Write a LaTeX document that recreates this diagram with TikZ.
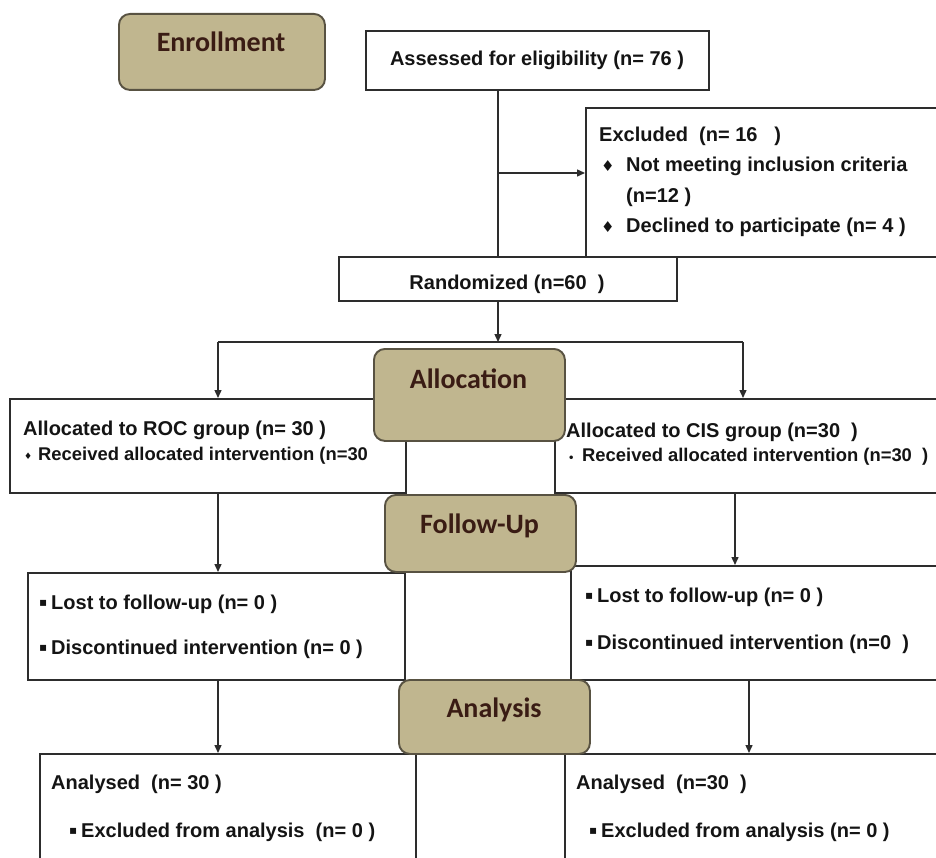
\documentclass[tikz,border=0pt]{standalone}
\usepackage{fontspec}
\setmainfont{Liberation Sans}
\newfontfamily\hdrfont{Carlito}
\newfontfamily\symfont{DejaVu Sans}
\usetikzlibrary{arrows.meta}
\definecolor{tanfill}{RGB}{192,182,143}
\definecolor{tanborder}{RGB}{88,82,66}
\definecolor{hdrtext}{RGB}{58,28,20}
\definecolor{linec}{RGB}{45,45,45}
\definecolor{txtc}{RGB}{20,20,20}
\newcommand{\bsq}{\makebox[12pt][l]{\raisebox{2.5pt}{\symfont\fontsize{12}{12}\selectfont ▪}}}
\newcommand{\bdia}{\makebox[25pt][l]{\symfont\fontsize{15}{15}\selectfont ♦}}
\newcommand{\bsmalldia}{\makebox[14pt][l]{\raisebox{1pt}{\symfont\fontsize{9}{9}\selectfont ♦}}}
\newcommand{\bdot}{\makebox[14pt][l]{\symfont\fontsize{10}{10}\selectfont •}}
\begin{document}
\begin{tikzpicture}[x=1pt,y=-1pt,
  plainbox/.style={draw=linec, line width=1.6pt, fill=white, inner sep=0pt, anchor=north west},
  hdrbox/.style={draw=tanborder, line width=1.9pt, fill=tanfill, rounded corners=11pt, inner sep=0pt, anchor=north west},
  hdrlabel/.style={anchor=base, inner sep=0pt, text=hdrtext, font=\hdrfont\bfseries\fontsize{28}{32}\selectfont},
  bodytext/.style={anchor=base west, inner sep=0pt, text=txtc, font=\bfseries\fontsize{20}{24}\selectfont},
  smalltext/.style={anchor=base west, inner sep=0pt, text=txtc, font=\bfseries\fontsize{18.4}{22}\selectfont},
  conn/.style={draw=linec, line width=1.4pt},
  arr/.style={conn, -{Triangle[length=8pt,width=7pt]}}
]
\useasboundingbox[fill=white] (0,0) rectangle (936,858);

% plain boxes
\node[plainbox, minimum width=343pt, minimum height=59pt] (assess) at (365,30) {};
\node[plainbox, minimum width=400pt, minimum height=149pt] (excl) at (585,107) {};
\node[plainbox, minimum width=338pt, minimum height=44pt] (rand) at (338,256) {};
\node[plainbox, minimum width=396pt, minimum height=94pt] (allocL) at (9,398) {};
\node[plainbox, minimum width=400pt, minimum height=94pt] (allocR) at (554,398) {};
\node[plainbox, minimum width=377pt, minimum height=107pt] (followL) at (27,572) {};
\node[plainbox, minimum width=384pt, minimum height=114pt] (followR) at (570,565) {};
\node[plainbox, minimum width=376pt, minimum height=130pt] (anaL) at (39,753) {};
\node[plainbox, minimum width=390pt, minimum height=130pt] (anaR) at (564,753) {};

% header boxes
\node[hdrbox, minimum width=206pt, minimum height=76pt] (enroll) at (118,13) {};
\node[hdrbox, minimum width=191pt, minimum height=92pt] (alloc) at (373,348) {};
\node[hdrbox, minimum width=191pt, minimum height=77pt] (follow) at (384,494) {};
\node[hdrbox, minimum width=191pt, minimum height=74pt] (ana) at (398,679) {};

% header labels
\node[hdrlabel] (enrollT) at (221,52) {Enrollment};
\node[hdrlabel] (allocT) at (468.5,388) {Allocation};
\node[hdrlabel] (followT) at (479.5,533) {Follow-Up};
\node[hdrlabel] (anaT) at (494,717) {Analysis};

% body texts
\node[bodytext, anchor=base] (assessT) at (537,66) {Assessed for eligibility (n= 76 )};
\node[bodytext] (exclT1) at (599,142) {Excluded\ \ (n= 16 \ \ )};
\node[bodytext] (exclT2) at (601,172) {\bdia Not meeting inclusion criteria};
\node[bodytext] (exclT3) at (626,203) {(n=12 )};
\node[bodytext] (exclT4) at (601,233) {\bdia Declined to participate (n= 4 )};
\node[bodytext, anchor=base] (randT) at (507,290) {Randomized (n=60 \ )};

\node[bodytext] (allocLT1) at (23,435) {Allocated to ROC group (n= 30 )};
\node[smalltext] (allocLT2) at (24,460) {\bsmalldia Received allocated intervention (n=30};
\node[bodytext] (allocRT1) at (566,437) {Allocated to CIS group (n=30 \ )};
\node[smalltext] (allocRT2) at (568,461) {\bdot Received allocated intervention (n=30 \ )};

\node[bodytext] (followLT1) at (39,609) {\bsq Lost to follow-up (n= 0 )};
\node[bodytext] (followLT2) at (39,654) {\bsq Discontinued intervention (n= 0 )};
\node[bodytext] (followRT1) at (585,602) {\bsq Lost to follow-up (n= 0 )};
\node[bodytext] (followRT2) at (585,649) {\bsq Discontinued intervention (n=0 \ )};

\node[bodytext] (anaLT1) at (51,789) {Analysed\ \ (n= 30 )};
\node[bodytext] (anaLT2) at (69,837) {\bsq Excluded from analysis\ \ (n= 0 )};
\node[bodytext] (anaRT1) at (576,789) {Analysed\ \ (n=30 \ )};
\node[bodytext] (anaRT2) at (589,837) {\bsq Excluded from analysis (n= 0 )};

% connector guide coordinates
\coordinate (trunk) at (498,0);
\coordinate (exclJoin) at (498,173);
\coordinate (split) at (498,342);
\coordinate (splitL) at (218,342);
\coordinate (splitR) at (743,342);
\coordinate (colL) at (218,0);
\coordinate (colR1) at (735,0);
\coordinate (colR2) at (749,0);

% connectors
\draw[conn] (assess.south -| trunk) -- (rand.north -| trunk);
\draw[arr] (exclJoin) -- (exclJoin -| excl.west);
\draw[arr] (rand.south -| trunk) -- (split);
\draw[conn] (splitL) -- (splitR);
\draw[arr] (splitL) -- (splitL |- allocL.north);
\draw[arr] (splitR) -- (splitR |- allocR.north);
\draw[arr] (allocL.south -| colL) -- (followL.north -| colL);
\draw[arr] (allocR.south -| colR1) -- (followR.north -| colR1);
\draw[arr] (followL.south -| colL) -- (anaL.north -| colL);
\draw[arr] (followR.south -| colR2) -- (anaR.north -| colR2);
\end{tikzpicture}
\end{document}
